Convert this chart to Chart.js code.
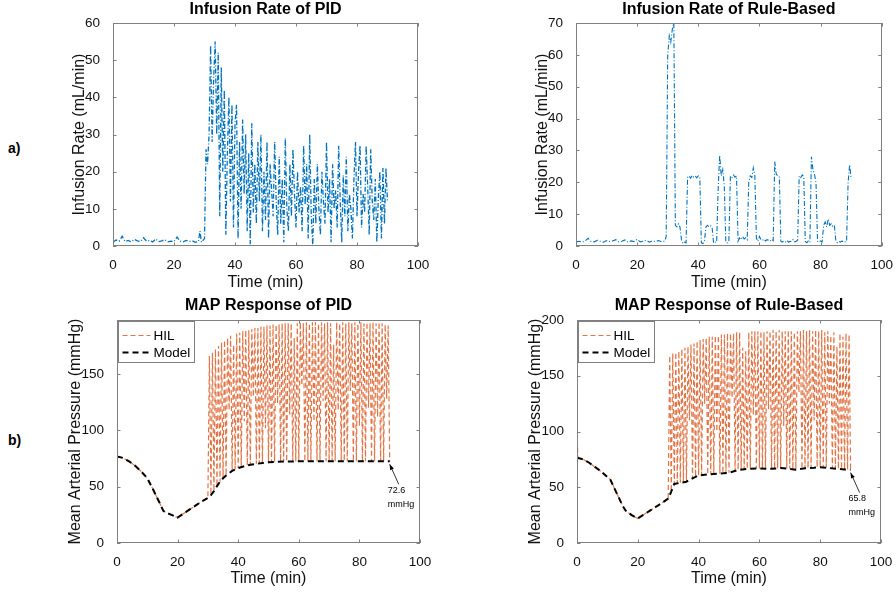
<!DOCTYPE html>
<html>
<head>
<meta charset="utf-8">
<script src="https://cdn.jsdelivr.net/npm/chart.js@4.4.0/dist/chart.umd.min.js"></script>
<style>
  body { margin: 0; background: #fff; width: 896px; height: 592px; position: relative; overflow: hidden; }
  canvas { position: absolute; }
  .tag { position: absolute; font: bold 14px "Liberation Sans", Arial, sans-serif; color: #000; }
</style>
</head>
<body>
<div class="tag" style="left:8px; top:140px">a)</div>
<div class="tag" style="left:8px; top:432px">b)</div>
<canvas id="pidRate" width="370" height="296" style="left:70px; top:0px"></canvas>
<canvas id="ruleRate" width="363" height="296" style="left:533px; top:0px"></canvas>
<canvas id="pidMap" width="374" height="296" style="left:66px; top:296px"></canvas>
<canvas id="ruleMap" width="370" height="296" style="left:526px; top:296px"></canvas>
<script>
// ---- infusion rate data (mL/min) ----
const infTimeEarly = [0, 1, 2, 3, 4, 5, 6, 7, 8, 9, 10, 11, 12, 13, 14, 15, 16, 17, 18, 19, 20, 21, 22, 23, 24, 25, 26, 27, 28];
const infTimeLate = [28.5, 29, 29.5, 30,
  30.5, 31, 31.5, 32, 32.5, 33, 33.5, 34, 34.5, 35,
  35.5, 36, 36.5, 37, 37.5, 38, 38.5, 39, 39.5, 40,
  40.5, 41, 41.5, 42, 42.5, 43, 43.5, 44, 44.5, 45,
  45.5, 46, 46.5, 47, 47.5, 48, 48.5, 49, 49.5, 50,
  50.5, 51, 51.5, 52, 52.5, 53, 53.5, 54, 54.5, 55,
  55.5, 56, 56.5, 57, 57.5, 58, 58.5, 59, 59.5, 60,
  60.5, 61, 61.5, 62, 62.5, 63, 63.5, 64, 64.5, 65,
  65.5, 66, 66.5, 67, 67.5, 68, 68.5, 69, 69.5, 70,
  70.5, 71, 71.5, 72, 72.5, 73, 73.5, 74, 74.5, 75,
  75.5, 76, 76.5, 77, 77.5, 78, 78.5, 79, 79.5, 80,
  80.5, 81, 81.5, 82, 82.5, 83, 83.5, 84, 84.5, 85,
  85.5, 86, 86.5, 87, 87.5, 88, 88.5, 89, 89.5, 90];

const pidRateEarly = [1.0, 1.6, 1.3, 2.6, 1.2, 1.5, 1.1, 1.8, 1.4, 1.2, 2.2, 1.3, 1.5, 1.1, 1.9, 1.2, 1.4, 1.7, 1.1, 1.3, 1.2, 2.4, 1.3, 1.1, 1.5, 1.2, 1.4, 1.0, 1.2];
const pidRateLate = [4.0, 1.0, 1.5, 2.0,
  26, 22, 30, 54, 28, 45, 55, 30, 52, 8,
  48, 20, 42, 3, 25, 40, 12, 38, 5, 33,
  38, 2, 28, 10, 34, 14, 30, 4, 25, 0.5,
  33, 9, 22, 6, 28, 12, 30, 4, 20, 7,
  28, 2, 22, 15, 8, 28, 12, 3, 24, 6,
  18, 1, 29, 10, 4, 22, 8, 26, 14, 5,
  20, 9, 16, 4, 27, 11, 22, 2, 30, 8,
  0, 18, 6, 22, 10, 3, 20, 12, 6, 28,
  9, 18, 1, 22, 10, 15, 5, 27, 12, 1,
  19, 8, 24, 4, 14, 10, 2, 18, 28, 8,
  20, 27, 5, 14, 9, 27, 16, 3, 26, 12,
  7, 18, 1, 13, 20, 2, 21, 6, 21, 12];

const ruleRateEarly = [1.3, 1.5, 1.2, 1.6, 2.4, 1.4, 1.3, 1.8, 1.5, 1.2, 1.7, 1.4, 1.6, 2.0, 1.3, 1.5, 1.9, 1.2, 1.6, 1.4, 2.1, 1.3, 1.5, 1.8, 1.2, 1.6, 1.4, 1.7, 1.3];
const ruleRateLate = [1.4, 1.6, 3, 60,
  66, 64, 68, 70, 6.5, 6, 7, 6, 2, 0.8,
  1.2, 1.0, 21.5, 22, 21.3, 22.2, 21.6, 22, 21.4, 22,
  21.5, 1.0, 0.8, 1.5, 6, 6.5, 6, 6.3, 6, 1.0,
  1.3, 1.1, 18, 28.5, 22, 24, 19, 1.2, 1.0, 1.4,
  22, 21.5, 22.3, 21.6, 22, 1.5, 2.5, 2.0, 3.0, 2.2,
  2.6, 2.0, 20, 22, 21.5, 24.5, 22, 2.5, 1.5, 3.0,
  2.0, 1.8, 2.2, 1.6, 2.0, 1.8, 1.5, 2.1, 1.7, 26.5,
  22.5, 22, 21.8, 1.5, 1.2, 1.6, 1.3, 1.8, 1.2, 1.5,
  1.4, 2.0, 1.3, 1.5, 1.8, 22, 21.5, 22.3, 21.7, 1.4,
  1.0, 1.6, 1.2, 28, 24, 22.5, 20, 1.5, 1.2, 1.6,
  1.3, 6.5, 7.5, 6, 8.5, 6.5, 7, 6.2, 6.5, 1.5,
  1.0, 1.4, 1.2, 1.6, 1.1, 1.3, 1.4, 20, 25.5, 21];

// ---- MAP data (mmHg) ----
const mapPidTime = [0, 2, 4, 6, 8, 10, 12, 14, 15.3, 16, 18, 20, 22, 24, 26, 28, 30, 31, 32, 33, 34, 35, 36, 38, 40, 42, 44, 46, 48, 50, 52, 55, 60, 65, 70, 75, 80, 85, 90];
const mapPidModel = [76.9, 75.5, 72.5, 68.5, 63.5, 57.5, 47, 36, 28.5, 27.2, 25, 22.6, 26.2, 29.8, 33.4, 37, 40, 42.5, 46, 50.5, 54.5, 57.5, 60, 64, 66.5, 68.2, 69.4, 70.3, 71, 71.6, 72, 72.3, 72.5, 72.6, 72.6, 72.6, 72.6, 72.6, 72.6];
const hilPidTimeEarly = [0, 2, 4, 6, 8, 10, 12, 14, 15.3, 16, 18, 20, 22, 24, 26, 28, 30];
const hilPidEarly = [76.9, 75.5, 72.5, 68.5, 63.5, 57.5, 47, 36, 28.5, 27.2, 25, 22.6, 26.2, 29.8, 33.4, 37, 40];

const mapRuleTime = [0, 2, 4, 6, 8, 11, 13, 15, 16, 18, 20, 22, 24, 26, 28, 30, 31, 32, 34, 36, 38, 40, 43, 47, 50, 53, 56, 60, 64, 67, 70, 72, 75, 78, 80, 83, 86, 88, 90];
const mapRuleModel = [76.4, 75, 72, 68, 64, 56.7, 45, 33.5, 29, 25, 22, 25.5, 29, 32.5, 36, 39.8, 46, 53, 54, 55, 58, 60.6, 61.5, 62.2, 63, 65.5, 66.5, 66.8, 66.5, 67.2, 66.5, 65.8, 67, 67.5, 68, 67.2, 66.5, 66, 65.8];
const hilRuleTimeEarly = [0, 0.3, 2, 4, 6, 8, 11, 13, 15, 16, 18, 20, 22, 24, 26, 28, 30];
const hilRuleEarly = [100, 76.3, 75, 72, 68, 64, 56.7, 45, 33.5, 29, 25, 22, 25.5, 29, 32.5, 36, 39.8];

const mapTimeLate = [30.5, 31, 31.5, 32, 32.5, 33, 33.5, 34, 34.5, 35,
  35.5, 36, 36.5, 37, 37.5, 38, 38.5, 39, 39.5, 40,
  40.5, 41, 41.5, 42, 42.5, 43, 43.5, 44, 44.5, 45,
  45.5, 46, 46.5, 47, 47.5, 48, 48.5, 49, 49.5, 50,
  50.5, 51, 51.5, 52, 52.5, 53, 53.5, 54, 54.5, 55,
  55.5, 56, 56.5, 57, 57.5, 58, 58.5, 59, 59.5, 60,
  60.5, 61, 61.5, 62, 62.5, 63, 63.5, 64, 64.5, 65,
  65.5, 66, 66.5, 67, 67.5, 68, 68.5, 69, 69.5, 70,
  70.5, 71, 71.5, 72, 72.5, 73, 73.5, 74, 74.5, 75,
  75.5, 76, 76.5, 77, 77.5, 78, 78.5, 79, 79.5, 80,
  80.5, 81, 81.5, 82, 82.5, 83, 83.5, 84, 84.5, 85,
  85.5, 86, 86.5, 87, 87.5, 88, 88.5, 89, 89.5, 90];

const hilPidLate = [166, 43, 169, 46, 172, 50.5, 175, 54.5, 178, 57.5,
  180, 60, 182, 118, 184, 64, 176, 65.3, 186, 66.5,
  187, 67.4, 188, 108, 189, 68.8, 189, 69.4, 190, 130,
  191, 70.3, 191, 70.7, 192, 71, 192, 102, 193, 71.6,
  193, 71.8, 194, 72, 194, 124, 194, 72.2, 195, 72.3,
  195, 72.3, 195, 114, 195, 72.4, 182, 72.4, 195, 72.5,
  196, 140, 195, 72.5, 196, 72.5, 195, 72.5, 196, 108,
  196, 72.6, 195, 72.6, 196, 126, 195, 72.6, 196, 72.6,
  195, 72.6, 176, 72.6, 196, 118, 195, 72.6, 196, 72.6,
  195, 72.6, 196, 135, 195, 72.6, 196, 72.6, 195, 104,
  196, 72.6, 195, 72.6, 196, 120, 195, 72.6, 196, 72.6,
  195, 112, 196, 72.6, 195, 72.6, 194, 128, 193, 72.6];

const hilRuleLate = [168, 46, 170, 53, 171, 53.5, 172, 54, 174, 54.5,
  175, 55, 176, 110, 178, 58, 179, 59.3, 181, 60.6,
  182, 61, 183, 125, 184, 61.5, 185, 61.7, 185, 62,
  186, 100, 186, 62.2, 187, 62.5, 187, 62.8, 188, 63,
  188, 130, 188, 64.5, 189, 65.5, 189, 66, 175, 66.3,
  172, 66.5, 189, 66.6, 190, 115, 190, 66.8, 190, 66.8,
  190, 66.7, 189, 66.6, 190, 120, 190, 66.5, 191, 66.7,
  190, 67, 191, 67.2, 190, 105, 190, 66.8, 191, 66.5,
  190, 66.2, 189, 65.8, 190, 135, 190, 66.6, 191, 67,
  190, 67.2, 191, 67.3, 190, 110, 191, 67.8, 190, 68,
  191, 67.7, 189, 67.4, 190, 125, 186, 67, 189, 66.7,
  176, 66.5, 188, 66.3, 185, 66, 188, 65.9, 187, 65.8];

const xTicks = [0, 20, 40, 60, 80, 100];

const FONT = '"Liberation Sans", Arial, Helvetica, sans-serif';
const BLUE = '#0072BD';
const ORANGE = 'rgba(217, 83, 25, 0.8)';
const AXIS = '#808080';

const toPoints = (xs, ys) => xs.map((x, i) => ({ x: x, y: ys[i] }));

// matlab style box with inward ticks
const boxPlugin = {
  id: 'matlabBox',
  afterDatasetsDraw(chart) {
    const { ctx, chartArea: a, scales: { x, y } } = chart;
    ctx.save();
    ctx.strokeStyle = AXIS;
    ctx.lineWidth = 1;
    ctx.strokeRect(Math.round(a.left) + 0.5, Math.round(a.top) + 0.5, Math.round(a.right - a.left) - 1, Math.round(a.bottom - a.top) - 1);
    ctx.beginPath();
    x.ticks.forEach((t) => {
      const px = Math.round(x.getPixelForValue(t.value)) + 0.5;
      ctx.moveTo(px, a.bottom); ctx.lineTo(px, a.bottom - 3.5);
      ctx.moveTo(px, a.top); ctx.lineTo(px, a.top + 3.5);
    });
    y.ticks.forEach((t) => {
      const py = Math.round(y.getPixelForValue(t.value)) + 0.5;
      ctx.moveTo(a.left, py); ctx.lineTo(a.left + 3.5, py);
      ctx.moveTo(a.right, py); ctx.lineTo(a.right - 3.5, py);
    });
    ctx.stroke();
    ctx.restore();
  }
};

const legendPlugin = {
  id: 'boxLegend',
  afterDraw(chart) {
    const { ctx, chartArea: a } = chart;
    const bx = Math.round(a.left) + 1.5, by = Math.round(a.top) + 1.5;
    ctx.save();
    ctx.fillStyle = '#fff';
    ctx.fillRect(bx, by, 76, 41);
    ctx.strokeStyle = AXIS;
    ctx.lineWidth = 1;
    ctx.strokeRect(bx, by, 76, 41);
    chart.data.datasets.forEach((ds, i) => {
      const ly = by + 14 + i * 17;
      ctx.strokeStyle = ds.borderColor;
      ctx.lineWidth = ds.borderWidth;
      ctx.setLineDash(ds.borderDash);
      ctx.beginPath(); ctx.moveTo(bx + 4, ly); ctx.lineTo(bx + 32, ly); ctx.stroke();
      ctx.setLineDash([]);
      ctx.fillStyle = '#000';
      ctx.font = '13.5px ' + FONT;
      ctx.textBaseline = 'middle';
      ctx.fillText(ds.label, bx + 35, ly + 1);
    });
    ctx.restore();
  }
};

const endNote = (value) => ({
  id: 'endNote',
  afterDraw(chart) {
    const { ctx, scales: { x, y } } = chart;
    const px = x.getPixelForValue(90), py = y.getPixelForValue(value) + 3;
    const tx = px + 9, ty = py + 20;
    ctx.save();
    ctx.strokeStyle = '#000'; ctx.fillStyle = '#000'; ctx.lineWidth = 0.8;
    ctx.beginPath(); ctx.moveTo(tx, ty); ctx.lineTo(px, py); ctx.stroke();
    const ang = Math.atan2(py - ty, px - tx);
    ctx.beginPath(); ctx.moveTo(px, py);
    ctx.lineTo(px - 6 * Math.cos(ang - 0.35), py - 6 * Math.sin(ang - 0.35));
    ctx.lineTo(px - 6 * Math.cos(ang + 0.35), py - 6 * Math.sin(ang + 0.35));
    ctx.closePath(); ctx.fill();
    ctx.font = '9px ' + FONT; ctx.textAlign = 'left'; ctx.textBaseline = 'middle';
    ctx.fillText(String(value), px - 2, py + 26);
    ctx.fillText('mmHg', px - 2, py + 40);
    ctx.restore();
  }
});

const makeChart = (id, opts) => {
  const ctx = document.getElementById(id).getContext('2d');
  return new Chart(ctx, {
    type: 'line',
    data: { datasets: opts.datasets },
    options: {
      responsive: false,
      animation: false,
      devicePixelRatio: 1,
      layout: { padding: { left: 0, right: opts.padRight, top: 0, bottom: 0 } },
      elements: { point: { radius: 0 }, line: { tension: 0 } },
      plugins: {
        legend: { display: false },
        tooltip: { enabled: false },
        title: {
          display: true, text: opts.title, color: '#000', fullSize: false,
          font: { family: FONT, size: 16, weight: 'bold' },
          padding: { top: 0, bottom: opts.titleGap }
        }
      },
      scales: {
        x: {
          type: 'linear', min: 0, max: 100,
          afterBuildTicks: (s) => { s.ticks = xTicks.map((v) => ({ value: v })); },
          afterFit: (s) => { s.height = opts.xHeight; },
          ticks: { padding: 3, color: '#111', maxRotation: 0, font: { family: FONT, size: 13.5 } },
          grid: { display: false },
          border: { display: false },
          title: { display: true, text: 'Time (min)', color: '#111', font: { family: FONT, size: 16 }, padding: { top: 0, bottom: 3.6 } }
        },
        y: {
          min: 0, max: opts.yMax,
          afterBuildTicks: (s) => { s.ticks = opts.yTicks.map((v) => ({ value: v })); },
          afterFit: (s) => { s.width = opts.yWidth; },
          ticks: { padding: 5, color: '#111', font: { family: FONT, size: 13.5 } },
          grid: { display: false },
          border: { display: false },
          title: { display: true, text: opts.yTitle, color: '#111', font: { family: FONT, size: 16 }, padding: { top: 0, bottom: 0 } }
        }
      }
    },
    plugins: opts.plugins
  });
};

const rateLine = (label, early, late, width) => ({
  label: label,
  data: toPoints(infTimeEarly.concat(infTimeLate), early.concat(late)),
  borderColor: BLUE,
  borderWidth: width,
  borderDash: [5, 2, 1, 2]
});

const hilLine = (times, values) => ({
  label: 'HIL',
  data: toPoints(times, values),
  borderColor: ORANGE,
  borderWidth: 1.2,
  borderDash: [5, 3],
  order: 2
});

const modelLine = (times, values) => ({
  label: 'Model',
  data: toPoints(times, values),
  borderColor: '#000',
  borderWidth: 2,
  borderDash: [6, 4],
  order: 1
});

makeChart('pidRate', {
  title: 'Infusion Rate of PID', yTitle: 'Infusion Rate (mL/min)',
  yMax: 60, yTicks: [0, 10, 20, 30, 40, 50, 60],
  yWidth: 43, xHeight: 50, padRight: 22, titleGap: 3.8,
  datasets: [rateLine('PID', pidRateEarly, pidRateLate, 1.3)],
  plugins: [boxPlugin]
});

makeChart('ruleRate', {
  title: 'Infusion Rate of Rule-Based', yTitle: 'Infusion Rate (mL/min)',
  yMax: 70, yTicks: [0, 10, 20, 30, 40, 50, 60, 70],
  yWidth: 43, xHeight: 50, padRight: 14, titleGap: 3.8,
  datasets: [rateLine('Rule-Based', ruleRateEarly, ruleRateLate, 1.1)],
  plugins: [boxPlugin]
});

makeChart('pidMap', {
  title: 'MAP Response of PID', yTitle: 'Mean Arterial Pressure (mmHg)',
  yMax: 198, yTicks: [0, 50, 100, 150],
  yWidth: 51, xHeight: 49, padRight: 20, titleGap: 4.8,
  datasets: [
    hilLine(hilPidTimeEarly.concat(mapTimeLate), hilPidEarly.concat(hilPidLate)),
    modelLine(mapPidTime, mapPidModel)
  ],
  plugins: [boxPlugin, legendPlugin, endNote(mapPidModel[mapPidModel.length - 1])]
});

makeChart('ruleMap', {
  title: 'MAP Response of Rule-Based', yTitle: 'Mean Arterial Pressure (mmHg)',
  yMax: 200, yTicks: [0, 50, 100, 150, 200],
  yWidth: 51, xHeight: 49, padRight: 15, titleGap: 4.8,
  datasets: [
    hilLine(hilRuleTimeEarly.concat(mapTimeLate), hilRuleEarly.concat(hilRuleLate)),
    modelLine(mapRuleTime, mapRuleModel)
  ],
  plugins: [boxPlugin, legendPlugin, endNote(mapRuleModel[mapRuleModel.length - 1])]
});
</script>
</body>
</html>
